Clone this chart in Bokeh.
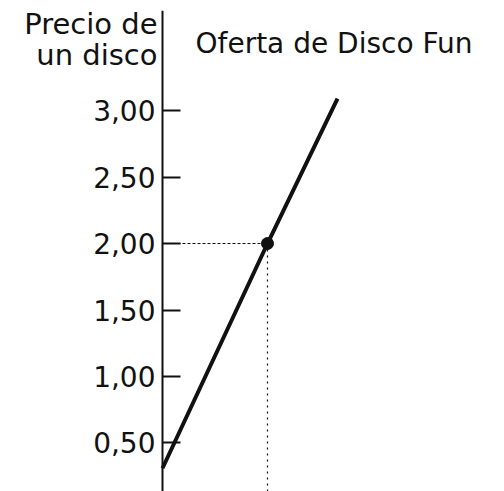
from bokeh.plotting import figure
from bokeh.models import Range1d, FixedTicker, Label
from bokeh.embed import file_html
from bokeh.resources import INLINE

# Data
quantity = [0, 3, 5]
price = [0.31, 2.00, 3.09]
point_q = [3]
point_p = [2.00]
tick_values = [0.5, 1.0, 1.5, 2.0, 2.5, 3.0]
tick_labels = ["0,50", "1,00", "1,50", "2,00", "2,50", "3,00"]
y_label_lines = ["Precio de", "un disco"]
curve_title = "Oferta de Disco Fun"

FONT = "DejaVu Sans"
INK = "#111111"

Y0, Y1 = 0.1353, 3.752
p = figure(width=496, height=491, output_backend="svg", toolbar_location=None,
           x_range=Range1d(-4.6286, 9.543), y_range=Range1d(Y0, Y1),
           x_axis_location=None, min_border_left=0, min_border_right=0,
           min_border_top=10, min_border_bottom=0)
p.outline_line_color = None
p.xgrid.visible = False
p.ygrid.visible = False
p.background_fill_color = "white"
p.border_fill_color = "white"

ax = p.yaxis[0]
ax.fixed_location = 0
ax.ticker = FixedTicker(ticks=tick_values)
ax.major_label_overrides = {v: t for v, t in zip(tick_values, tick_labels)}
ax.major_tick_in = 18
ax.major_tick_out = 0
ax.minor_tick_in = 0
ax.minor_tick_out = 0
ax.axis_line_width = 2
ax.axis_line_color = INK
ax.major_tick_line_width = 2
ax.major_tick_line_color = INK
ax.major_label_standoff = 7
ax.major_label_text_font = FONT
ax.major_label_text_font_size = "28px"
ax.major_label_text_color = INK

# guide lines to the point
p.line([0, point_q[0]], [point_p[0], point_p[0]], line_color=INK, line_width=1.2, line_dash="3 2")
p.line([point_q[0], point_q[0]], [Y0, point_p[0]], line_color=INK, line_width=1.2, line_dash="2 4")

# supply curve
p.line(quantity, price, line_color=INK, line_width=4)
p.scatter(point_q, point_p, size=12, fill_color=INK, line_color=INK)

# texts
p.add_layout(Label(x=-0.143, y=3.652, text=y_label_lines[0], text_align="right",
                   text_baseline="alphabetic", text_font=FONT, text_font_size="29px",
                   text_color=INK))
p.add_layout(Label(x=-0.143, y=3.419, text=y_label_lines[1], text_align="right",
                   text_baseline="alphabetic", text_font=FONT, text_font_size="29px",
                   text_color=INK))
p.add_layout(Label(x=0.943, y=3.506, text=curve_title, text_align="left",
                   text_baseline="alphabetic", text_font=FONT, text_font_size="28px",
                   text_color=INK))

open("out.html", "w").write(file_html(p, INLINE))
